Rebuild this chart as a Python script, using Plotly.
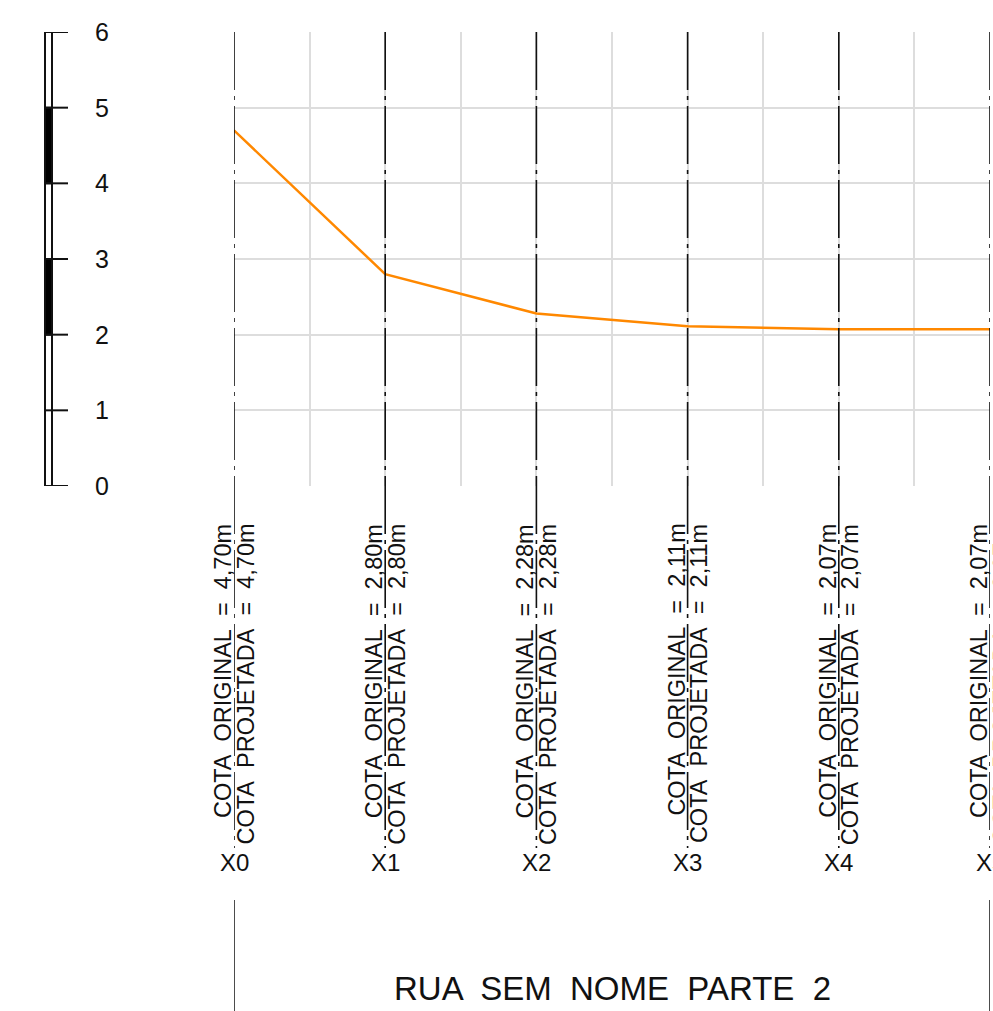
import plotly.graph_objects as go

# ---- data ----
stations = ["X0", "X1", "X2", "X3", "X4", "X5"]
station_pos = [0, 1, 2, 3, 4, 5]
cota_original = [4.70, 2.80, 2.28, 2.11, 2.07, 2.07]
cota_projetada = [4.70, 2.80, 2.28, 2.11, 2.07, 2.07]
scale_ticks = [0, 1, 2, 3, 4, 5, 6]
scale_black = [(2, 3), (4, 5)]
title_text = "RUA  SEM  NOME  PARTE  2"

W, H = 993, 1011
NB = "\u00a0"
FONT = "Liberation Sans, Arial, sans-serif"


def px_x(p):
    return p / W


def px_y(p):
    return (H - p) / H


def fmt(v):
    return f"{v:.2f}".replace(".", ",") + "m"


fig = go.Figure()

fig.add_trace(go.Scatter(
    x=station_pos, y=cota_original, mode="lines",
    line=dict(color="#ff8800", width=2.5), hoverinfo="skip", showlegend=False,
    cliponaxis=False,
))

shapes = []
annotations = []

# vertical dash-dot station lines
for s in station_pos:
    shapes.append(dict(type="line", xref="x", yref="paper", x0=s, x1=s,
                       y0=px_y(32), y1=px_y(848),
                       line=dict(color="#111111", width=1.6, dash="58px,6px,4px,6px")))
# bottom frame lines
for s in (station_pos[0], station_pos[-1]):
    shapes.append(dict(type="line", xref="x", yref="paper", x0=s, x1=s,
                       y0=px_y(900), y1=px_y(1011),
                       line=dict(color="#111111", width=1.5)))

# left scale bar
bx0, bx1, tx1 = px_x(45), px_x(52), px_x(68)
shapes.append(dict(type="rect", xref="paper", yref="y", x0=bx0, x1=bx1,
                   y0=scale_ticks[0], y1=scale_ticks[-1],
                   line=dict(color="#111111", width=2), fillcolor="white"))
for a, b in scale_black:
    shapes.append(dict(type="rect", xref="paper", yref="y", x0=bx0, x1=bx1,
                       y0=a, y1=b, line=dict(color="#111111", width=2),
                       fillcolor="#000000"))
for t in scale_ticks:
    shapes.append(dict(type="line", xref="paper", yref="y", x0=bx0, x1=tx1,
                       y0=t, y1=t, line=dict(color="#111111", width=2)))
    annotations.append(dict(xref="paper", yref="y", x=px_x(102), y=t,
                            text=str(t), showarrow=False, xanchor="center",
                            yanchor="middle",
                            font=dict(family=FONT, size=25, color="#111111")))

# station labels
for s, name, vo, vp in zip(station_pos, stations, cota_original, cota_projetada):
    t1 = f"COTA{NB*2}ORIGINAL{NB*2}={NB*2}{fmt(vo)}"
    t2 = f"COTA{NB*2}PROJETADA{NB*2}={NB*2}{fmt(vp)}"
    annotations.append(dict(xref="x", yref="paper", x=s, y=px_y(522),
                            text=t1, textangle=-90, showarrow=False,
                            xanchor="right", yanchor="top", xshift=4,
                            font=dict(family=FONT, size=23.5, color="#111111")))
    annotations.append(dict(xref="x", yref="paper", x=s, y=px_y(522),
                            text=t2, textangle=-90, showarrow=False,
                            xanchor="left", yanchor="top", xshift=-4,
                            font=dict(family=FONT, size=23.5, color="#111111")))
    annotations.append(dict(xref="x", yref="paper", x=s, y=px_y(862),
                            text=name, showarrow=False,
                            xanchor="center", yanchor="middle",
                            font=dict(family=FONT, size=24, color="#111111")))

annotations.append(dict(xref="x", yref="paper", x=(station_pos[0] + station_pos[-1]) / 2,
                        y=px_y(988), text=title_text, showarrow=False,
                        xanchor="center", yanchor="middle",
                        font=dict(family=FONT, size=33, color="#111111")))

grid_x = [i * 0.5 for i in range(0, 11)]

fig.update_layout(
    width=W, height=H,
    margin=dict(l=0, r=0, t=0, b=0),
    paper_bgcolor="white", plot_bgcolor="white",
    showlegend=False,
    shapes=shapes, annotations=annotations,
    xaxis=dict(domain=[px_x(234), px_x(990)], range=[0, 5],
               tickvals=grid_x, showticklabels=False, ticks="",
               showgrid=True, gridcolor="#dddddd", gridwidth=2,
               zeroline=False, showline=False, fixedrange=True),
    yaxis=dict(domain=[px_y(486), px_y(32)], range=[0, 6],
               tickvals=scale_ticks, showticklabels=False, ticks="",
               showgrid=True, gridcolor="#dddddd", gridwidth=2,
               zeroline=False, showline=False, fixedrange=True),
)

fig.write_html(
    "out.html",
    config={"displayModeBar": False, "staticPlot": True},
    post_script="document.documentElement.style.overflow='hidden';"
                "document.body.style.margin='0';"
                "document.body.style.overflow='hidden';",
)
